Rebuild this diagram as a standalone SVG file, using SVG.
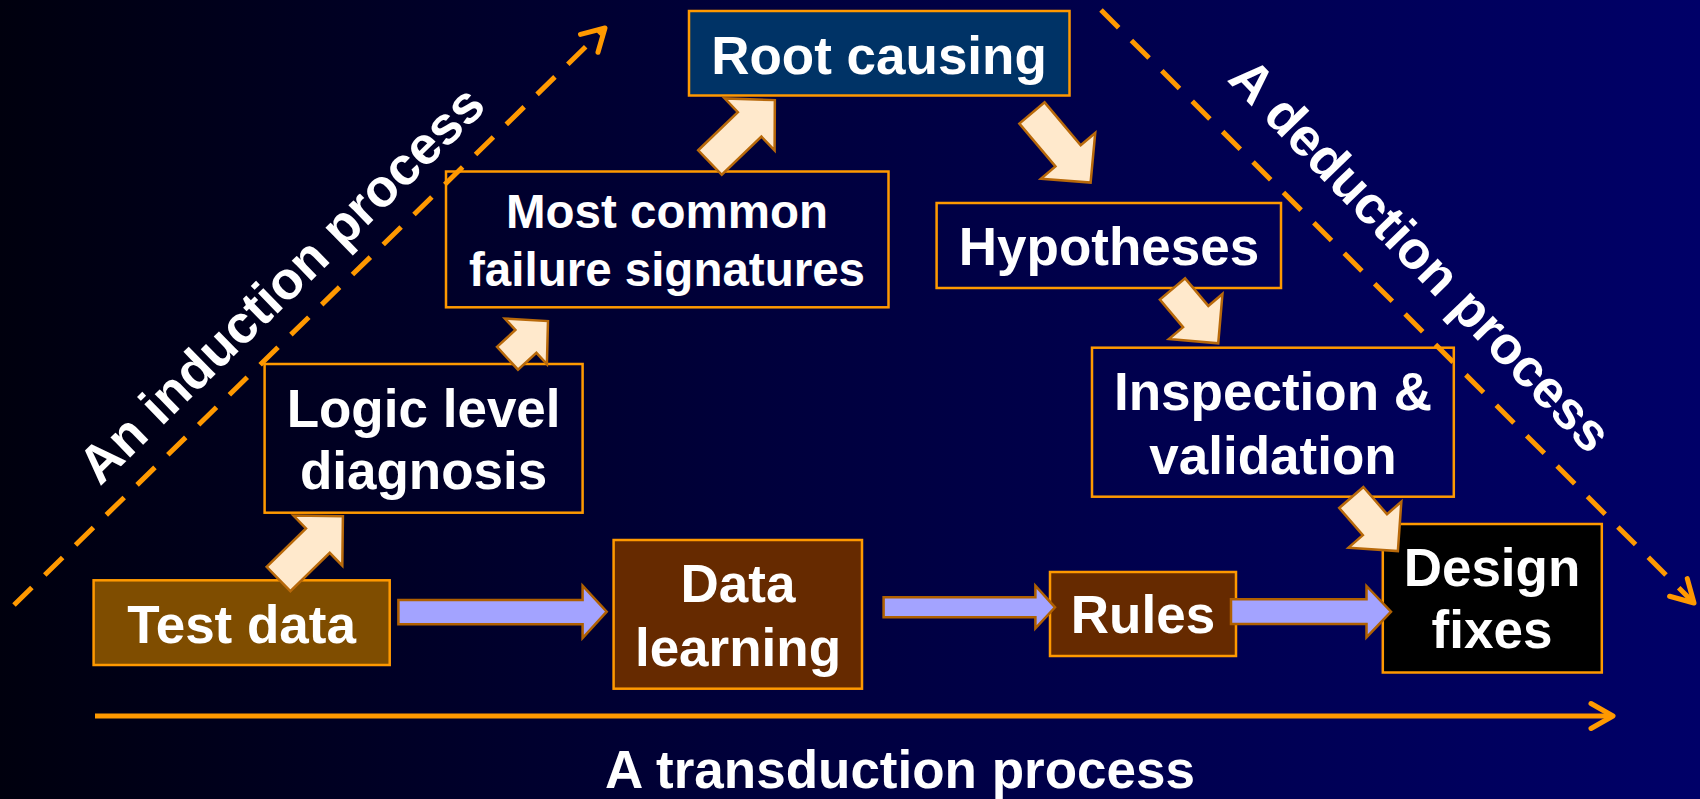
<svg xmlns="http://www.w3.org/2000/svg" width="1700" height="799" viewBox="0 0 1700 799">
  <defs>
    <linearGradient id="bg" x1="0" y1="0" x2="1" y2="0">
      <stop offset="0" stop-color="#00000e"/>
      <stop offset="0.45" stop-color="#00003c"/>
      <stop offset="1" stop-color="#000068"/>
    </linearGradient>
    <marker id="chev" markerUnits="userSpaceOnUse" markerWidth="40" markerHeight="40" viewBox="-30 -20 40 40" refX="0" refY="0" orient="auto">
      <path d="M-22,-12.5 L0,0 L-22,12.5" fill="none" stroke="#ff9900" stroke-width="5" stroke-linecap="round" stroke-linejoin="round" stroke-dasharray="none"/>
    </marker>
    <style>
      .box { stroke: #ff9900; stroke-width: 2.5; }
      .plain { fill: none; }
      .lbl { font-family: "Liberation Sans", Arial, sans-serif; font-weight: bold; font-size: 53px; fill: #ffffff; text-anchor: middle; }
      .small { font-size: 47.5px; }
      .process { fill: none; stroke: #ff9900; stroke-width: 5; }
      .dash { stroke-dasharray: 25 18; }
      .step { fill: #ffe9cc; stroke: #b8690a; stroke-width: 2.5; stroke-linejoin: miter; }
      .flow { fill: #a3a3ff; stroke: #b06000; stroke-width: 2.5; }
    </style>
  </defs>

  <rect x="0" y="0" width="1700" height="799" fill="url(#bg)"/>

  <!-- process directions -->
  <g id="processes">
    <path class="process dash" d="M14,605 L605,28" marker-end="url(#chev)"/>
    <path class="process dash" d="M1101,10 L1694,603" marker-end="url(#chev)"/>
    <path class="process" d="M95,716 L1613,716" marker-end="url(#chev)"/>
    <text class="lbl" transform="translate(294,297.5) rotate(-44.3)">An induction process</text>
    <text class="lbl" transform="translate(1407.6,267.8) rotate(46)">A deduction process</text>
    <text class="lbl" x="900" y="788">A transduction process</text>
  </g>

  <!-- nodes -->
  <g id="root-causing">
    <rect class="box" x="689" y="11" width="380.5" height="84.5" fill="#003366"/>
    <text class="lbl" x="879" y="74">Root causing</text>
  </g>
  <g id="failure-signatures">
    <rect class="box plain" x="446" y="171.5" width="442.5" height="135.8"/>
    <text class="lbl small" x="667" y="228">Most common</text>
    <text class="lbl small" x="667" y="286">failure signatures</text>
  </g>
  <g id="hypotheses">
    <rect class="box plain" x="936.6" y="203" width="344.4" height="85"/>
    <text class="lbl" x="1109" y="265">Hypotheses</text>
  </g>
  <g id="logic-diagnosis">
    <rect class="box plain" x="264.6" y="364" width="318" height="148.7"/>
    <text class="lbl" x="423.6" y="427">Logic level</text>
    <text class="lbl" x="423.6" y="489">diagnosis</text>
  </g>
  <g id="inspection">
    <rect class="box plain" x="1092" y="347.7" width="361.8" height="149"/>
    <text class="lbl" x="1273" y="410">Inspection &amp;</text>
    <text class="lbl" x="1273" y="474">validation</text>
  </g>
  <g id="test-data">
    <rect class="box" x="93.6" y="580.3" width="296.1" height="84.7" fill="#7f4d00"/>
    <text class="lbl" x="241.6" y="642.7">Test data</text>
  </g>
  <g id="data-learning">
    <rect class="box" x="613.6" y="540" width="248.4" height="148.7" fill="#662a00"/>
    <text class="lbl" x="738" y="601.7">Data</text>
    <text class="lbl" x="738" y="666">learning</text>
  </g>
  <g id="rules">
    <rect class="box" x="1050" y="572" width="186" height="84" fill="#662a00"/>
    <text class="lbl" x="1143" y="633.3">Rules</text>
  </g>
  <g id="design-fixes">
    <rect class="box" x="1382.8" y="524" width="219" height="148.5" fill="#000000"/>
    <text class="lbl" x="1492" y="585.7">Design</text>
    <text class="lbl" x="1492" y="648.3">fixes</text>
  </g>

  <!-- connectors -->
  <g id="connectors">
    <!-- induction steps -->
    <polygon class="step" transform="translate(278.5,579) rotate(-44.3)" points="0,-17 55,-17 55,-35 90,0 55,35 55,17 0,17"/>
    <polygon class="step" transform="translate(507.5,358.3) rotate(-42.6)" points="0,-15.5 25,-15.5 25,-31 55,0 25,31 25,15.5 0,15.5"/>
    <polygon class="step" transform="translate(710,162.5) rotate(-43.9)" points="0,-17 55,-17 55,-36 90,0 55,36 55,17 0,17"/>
    <!-- deduction steps -->
    <polygon class="step" transform="translate(1032,113) rotate(49.9)" points="0,-16.5 56,-16.5 56,-35.5 91,0 56,35.5 56,16.5 0,16.5"/>
    <polygon class="step" transform="translate(1172.5,289) rotate(49.9)" points="0,-16.5 36,-16.5 36,-35 71,0 36,35 36,16.5 0,16.5"/>
    <polygon class="step" transform="translate(1351.3,497.5) rotate(49)" points="0,-16 36,-16 36,-35 71,0 36,35 36,16 0,16"/>
    <!-- transduction flow -->
    <polygon class="flow" points="398.4,600 582.6,600 582.6,585.7 606.7,611.7 582.6,638 582.6,624.3 398.4,624.3"/>
    <polygon class="flow" points="883.6,597.3 1035.4,597.3 1035.4,585.7 1055,607.3 1035.4,628.3 1035.4,617.3 883.6,617.3"/>
    <polygon class="flow" points="1231,599.3 1366.5,599.3 1366.5,586 1391,611.7 1366.5,637.3 1366.5,624 1231,624"/>
  </g>
</svg>
